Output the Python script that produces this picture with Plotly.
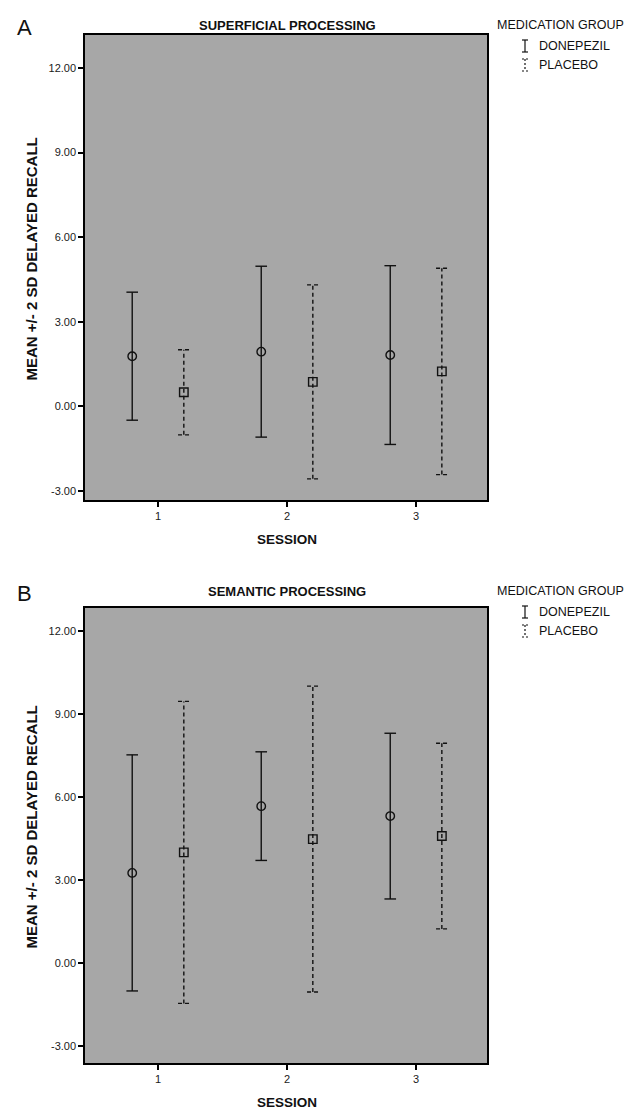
import plotly.graph_objects as go

# ---------------- data ----------------
sessions = [1, 2, 3]
session_labels = ["1", "2", "3"]
groups = ["DONEPEZIL", "PLACEBO"]

sup_don_mean = [1.78, 1.94, 1.82]
sup_don_2sd = [2.27, 3.03, 3.17]
sup_pla_mean = [0.50, 0.87, 1.24]
sup_pla_2sd = [1.51, 3.44, 3.66]

sem_don_mean = [3.26, 5.67, 5.31]
sem_don_2sd = [4.26, 1.96, 2.99]
sem_pla_mean = [4.00, 4.48, 4.59]
sem_pla_2sd = [5.45, 5.52, 3.35]

y_ticks = [-3, 0, 3, 6, 9, 12]
y_tick_labels = ["-3.00", "0.00", "3.00", "6.00", "9.00", "12.00"]

panel_titles = ["SUPERFICIAL PROCESSING", "SEMANTIC PROCESSING"]
panel_letters = ["A", "B"]

# ---------------- layout constants ----------------
W, H = 636, 1111
L, R, T, B = 77, 157, 27, 56
PW = W - L - R
PH = H - T - B
FONT = "Liberation Sans, Arial, sans-serif"
INK = "#111111"
GROUP_OFFSET = 0.2
CAP = 0.045


def xp(px):
    return (px - L) / PW


def yp(py):
    return (H - B - py) / PH


fig = go.Figure()

panels = [
    dict(don_m=sup_don_mean, don_s=sup_don_2sd, pla_m=sup_pla_mean, pla_s=sup_pla_2sd,
         xa="x", ya="y", top=27, bottom=492, yrange=[-3.32, 13.17]),
    dict(don_m=sem_don_mean, don_s=sem_don_2sd, pla_m=sem_pla_mean, pla_s=sem_pla_2sd,
         xa="x2", ya="y2", top=600, bottom=1055, yrange=[-3.6, 12.82]),
]

styles = {
    "DONEPEZIL": dict(off=-GROUP_OFFSET, dash="solid", symbol="circle-open"),
    "PLACEBO": dict(off=GROUP_OFFSET, dash="4px,3px", symbol="square-open"),
}

for p in panels:
    for g, means, sds in [("DONEPEZIL", p["don_m"], p["don_s"]), ("PLACEBO", p["pla_m"], p["pla_s"])]:
        st = styles[g]
        xs, ys = [], []
        for s, m, d in zip(sessions, means, sds):
            x = s + st["off"]
            lo, hi = m - d, m + d
            xs += [x, x, None, x - CAP, x + CAP, None, x - CAP, x + CAP, None]
            ys += [lo, hi, None, hi, hi, None, lo, lo, None]
        fig.add_trace(go.Scatter(
            x=xs, y=ys, mode="lines", xaxis=p["xa"], yaxis=p["ya"],
            line=dict(color=INK, width=1.4, dash=st["dash"]),
            showlegend=False, hoverinfo="skip"))
        fig.add_trace(go.Scatter(
            x=[s + st["off"] for s in sessions], y=means, mode="markers",
            xaxis=p["xa"], yaxis=p["ya"], name=g,
            marker=dict(symbol=st["symbol"], size=8.5, color=INK, line=dict(width=1.4, color=INK)),
            showlegend=False))

axis_common = dict(showline=True, linecolor="black", linewidth=1.5, mirror=True,
                   ticks="outside", ticklen=5, tickwidth=1.5, tickcolor="black",
                   showgrid=False, zeroline=False,
                   tickfont=dict(family=FONT, size=11, color="#1a1a1a"))

layout = dict(
    width=W, height=H,
    margin=dict(l=L, r=R, t=T, b=B),
    paper_bgcolor="white",
    plot_bgcolor="#a7a7a7",
    showlegend=False,
    font=dict(family=FONT, color=INK),
)

for i, p in enumerate(panels):
    sfx = "" if i == 0 else "2"
    dom = [yp(p["bottom"]), yp(p["top"])]
    layout["xaxis" + sfx] = dict(axis_common, domain=[0, 1], range=[0.434, 3.55],
                                 tickvals=sessions, ticktext=session_labels,
                                 anchor="y" + sfx)
    layout["yaxis" + sfx] = dict(axis_common, domain=dom, range=p["yrange"],
                                 tickvals=y_ticks, ticktext=y_tick_labels,
                                 anchor="x" + sfx)

fig.update_layout(**layout)

# ---------------- text & legend ----------------
ann = []
shapes = []
for i, p in enumerate(panels):
    dy = 0 if i == 0 else 566
    top, bottom = p["top"], p["bottom"]
    ann.append(dict(text=panel_letters[i], x=xp(7), y=yp(19 + dy), xanchor="left", yanchor="middle",
                    font=dict(size=22, family=FONT, color=INK)))
    ann.append(dict(text="<b>" + panel_titles[i] + "</b>", x=xp(279), y=yp(17 + dy),
                    xanchor="center", yanchor="middle", font=dict(size=13, family=FONT, color=INK)))
    ann.append(dict(text="MEDICATION GROUP", x=xp(487), y=yp(17 + dy), xanchor="left", yanchor="middle",
                    font=dict(size=12.5, family=FONT, color=INK)))
    for j, g in enumerate(groups):
        cy = 38 + dy + j * 19
        ann.append(dict(text=g, x=xp(529), y=yp(cy), xanchor="left", yanchor="middle",
                        font=dict(size=12.5, family=FONT, color=INK)))
        st = styles[g]
        dash = "solid" if st["dash"] == "solid" else "2px,2px"
        shapes.append(dict(type="line", xref="paper", yref="paper",
                           x0=xp(517), x1=xp(517), y0=yp(cy - 6), y1=yp(cy + 6),
                           line=dict(color=INK, width=1.2, dash=dash)))
        for yy in (cy - 6, cy + 6):
            shapes.append(dict(type="line", xref="paper", yref="paper",
                               x0=xp(514), x1=xp(520), y0=yp(yy), y1=yp(yy),
                               line=dict(color=INK, width=1.2, dash=dash)))
    ann.append(dict(text="<b>MEAN +/- 2 SD DELAYED RECALL</b>", x=xp(23), y=yp((top + bottom) / 2 - 8),
                    textangle=-90, xanchor="center", yanchor="middle",
                    font=dict(size=15, family=FONT, color=INK)))
    ann.append(dict(text="<b>SESSION</b>", x=xp(279), y=yp(bottom + 39), xanchor="center", yanchor="middle",
                    font=dict(size=13.5, family=FONT, color=INK)))

for a in ann:
    a.update(xref="paper", yref="paper", showarrow=False)

fig.update_layout(annotations=ann, shapes=shapes)

fig.write_html("out.html")
